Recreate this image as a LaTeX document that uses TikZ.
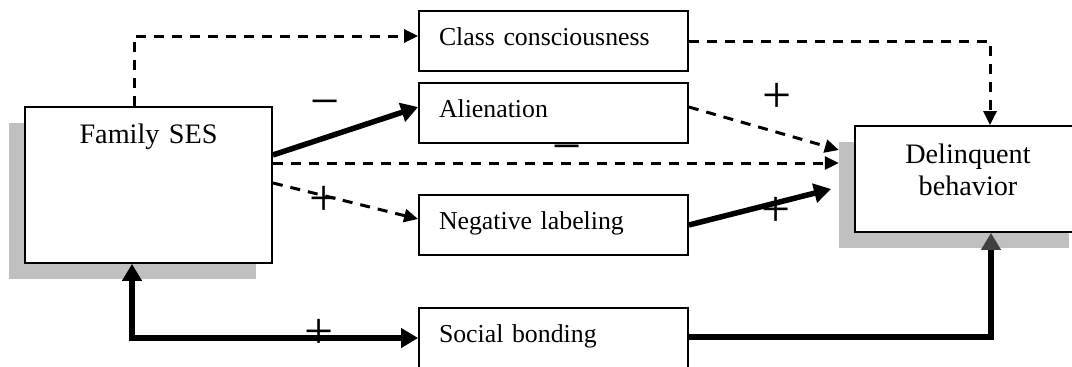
\documentclass[tikz,border=0pt]{standalone}
\usepackage{fontspec}
\setmainfont{Liberation Serif}
\usetikzlibrary{arrows.meta,calc}
\definecolor{shadowgray}{RGB}{192,192,192}
\definecolor{tipgray}{RGB}{64,64,64}

\begin{document}
\begin{tikzpicture}[x=1pt, y=-1pt,
    box/.style={draw, line width=1.8pt, fill=white, minimum width=269pt,
                minimum height=60pt, inner ysep=0pt, inner xsep=20pt,
                text width=229pt, align=left, text height=18pt, text depth=10pt,
                font=\fontsize{25.8}{30}\selectfont},
    mainbox/.style={draw, line width=1.8pt, fill=white},
    shadowbox/.style={fill=shadowgray, draw=none},
    title/.style={font=\fontsize{28.2}{32}\selectfont, align=center,
                  anchor=base, text width=220pt},
    sign/.style={font=\fontsize{51.6}{52}\selectfont, anchor=base, inner sep=0pt},
    thickarrow/.style={line width=5.5pt, -{Triangle[length=17pt,width=19pt]}},
    dasharrow/.style={line width=3pt, dash pattern=on 10pt off 8pt,
                      -{Triangle[length=14pt,width=13pt]}}
  ]
  \clip (0,0) rectangle (1072,367);

  % Shadows
  \node[shadowbox, minimum width=247pt, minimum height=156pt] (sessh)  at (132.5,201) {};
  \node[shadowbox, minimum width=230pt, minimum height=106pt] (delqsh) at (954,195)   {};

  % Nodes
  \node[mainbox, minimum width=247pt, minimum height=156pt] (ses) at (148.5,185) {};
  \node[title] (sestext) at (148.5,143) {Family SES};
  \node[mainbox, minimum width=230pt, minimum height=106pt] (delq) at (970,179) {};
  \node[title] (delqtext) at (968,163) {Delinquent\\behavior};

  \node[box] (class)  at (553.5,41)  {Class consciousness};
  \node[box] (alien)  at (553.5,113) {Alienation};
  \node[box] (neglab) at (553.5,225) {Negative labeling};
  \node[box] (bond)   at (553.5,338) {Social bonding};

  % Family SES -> class consciousness -> delinquent behavior
  \draw[dasharrow] ([xshift=-14.5pt]ses.north) |- ([yshift=5pt]class.west);
  \draw[dasharrow] (class.east) -| ([xshift=20pt]delq.north);

  % Family SES -> alienation -> delinquent behavior
  \draw[thickarrow] ([yshift=30pt]ses.east) -- ([yshift=6pt]alien.west);
  \draw[dasharrow] ([yshift=6pt]alien.east) -- ([yshift=45pt]delqsh.west);

  % Family SES -> delinquent behavior (direct)
  \coordinate (direct) at ($(ses.east)+(0,-22)$);
  \draw[dasharrow] (direct) -- (direct -| delqsh.west);

  % Family SES -> negative labeling -> delinquent behavior
  \draw[dasharrow] ([yshift=2pt]ses.east) -- ([yshift=6pt]neglab.west);
  \draw[thickarrow, shorten >=8pt] (neglab.east) -- ([yshift=8pt]delqsh.west);

  % Family SES <-> social bonding -> delinquent behavior
  \draw[thickarrow, {Triangle[length=17pt,width=19pt]}-{Triangle[length=17pt,width=19pt]}]
       ([xshift=-16.5pt]ses.south) |- (bond.west);
  \draw[thickarrow, -{Triangle[length=17pt,width=19pt,color=tipgray]}]
       ([yshift=1pt]bond.east) -| ([xshift=21pt]delq.south);

  % Signs
  \node[sign] (minusa) at (325,118)   {−};
  \node[sign] (minusb) at (567,163)   {−};
  \node[sign] (plusa)  at (324.5,215) {+};
  \node[sign] (plusb)  at (777,112)   {+};
  \node[sign] (plusc)  at (776,226)   {+};
  \node[sign] (plusd)  at (319,348.5) {+};
\end{tikzpicture}
\end{document}
